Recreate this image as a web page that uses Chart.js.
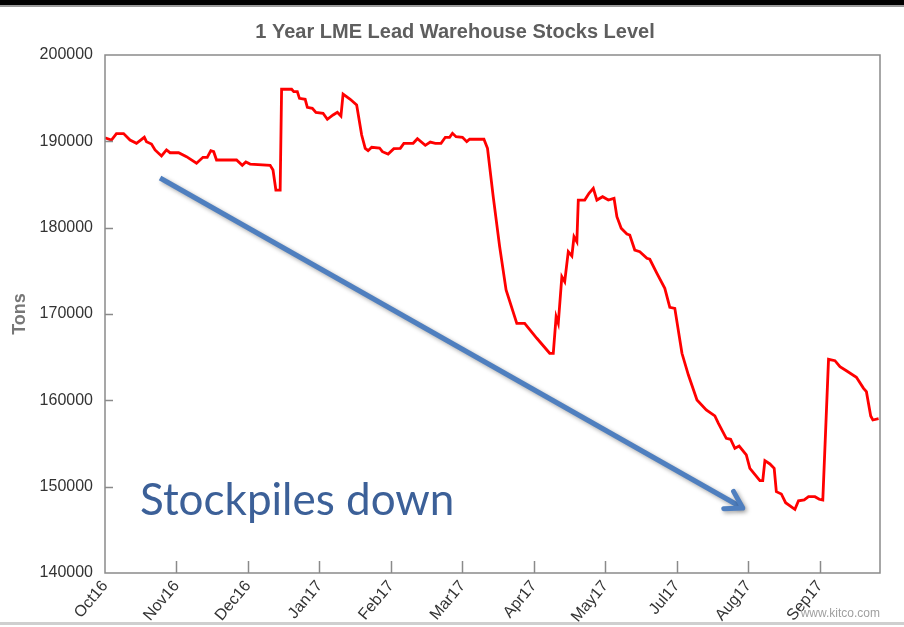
<!DOCTYPE html>
<html>
<head>
<meta charset="utf-8">
<script src="https://cdn.jsdelivr.net/npm/chart.js@4.4.1/dist/chart.umd.min.js"></script>
<style>
  html, body { margin: 0; padding: 0; background: #fff; }
  #wrap { position: relative; width: 904px; height: 627px; }
</style>
</head>
<body>
<div id="wrap"><canvas id="stocks"></canvas></div>
<script>
// month tick labels (the source chart skips Jun17)
const monthLabels = ["Oct16", "Nov16", "Dec16", "Jan17", "Feb17", "Mar17",
                     "Apr17", "May17", "Jul17", "Aug17", "Sep17"];
const yMin = 140000, yMax = 200000, yStep = 10000;

// position along the month axis (0 = Oct16) and stock level in tons
const monthPos = [0.00, 0.09, 0.16, 0.26, 0.35, 0.44, 0.55, 0.58, 0.65, 0.70,
  0.79, 0.86, 0.91, 1.03, 1.14, 1.28, 1.37, 1.43, 1.48, 1.52,
  1.56, 1.84, 1.92, 1.97, 2.03, 2.31, 2.35, 2.39, 2.45, 2.47,
  2.61, 2.64, 2.69, 2.72, 2.80, 2.83, 2.90, 2.95, 3.05, 3.11,
  3.19, 3.25, 3.30, 3.33, 3.43, 3.52, 3.59, 3.64, 3.68, 3.73,
  3.84, 3.88, 3.96, 4.04, 4.13, 4.18, 4.31, 4.37, 4.48, 4.55,
  4.62, 4.70, 4.76, 4.82, 4.86, 4.91, 5.00, 5.06, 5.10, 5.30,
  5.35, 5.43, 5.52, 5.61, 5.76, 5.87, 6.04, 6.22, 6.27, 6.31,
  6.34, 6.39, 6.43, 6.48, 6.53, 6.56, 6.60, 6.62, 6.71, 6.77,
  6.83, 6.88, 6.96, 7.04, 7.12, 7.16, 7.22, 7.30, 7.34, 7.41,
  7.48, 7.58, 7.62, 7.72, 7.83, 7.90, 7.97, 8.07, 8.16, 8.28,
  8.41, 8.53, 8.58, 8.69, 8.75, 8.81, 8.87, 8.97, 9.02, 9.16,
  9.20, 9.23, 9.30, 9.36, 9.39, 9.46, 9.52, 9.65, 9.70, 9.78,
  9.84, 9.93, 9.99, 10.04, 10.12, 10.21, 10.28, 10.37, 10.51, 10.61,
  10.65, 10.71, 10.74, 10.82];
const tons = [190400, 190150, 190900, 190900, 190150, 189770, 190470, 189960, 189690, 189000,
  188300, 189000, 188680, 188680, 188220, 187460, 188150, 188150, 188920, 188800,
  187840, 187840, 187220, 187610, 187370, 187220, 186680, 184360, 184360, 196030,
  196030, 195750, 195750, 194980, 194870, 193940, 193830, 193360, 193250, 192550,
  193050, 193360, 192930, 195480, 194870, 194210, 190730, 189190, 188920, 189310,
  189230, 188800, 188530, 189150, 189190, 189770, 189770, 190300, 189540, 189920,
  189770, 189770, 190470, 190470, 190930, 190540, 190470, 189960, 190240, 190240,
  189190, 183590, 177800, 172780, 168920, 168920, 167190, 165450, 165450, 169690,
  168920, 174320, 173740, 177220, 176720, 178950, 178370, 183200, 183200, 183980,
  184560, 183200, 183590, 183200, 183400, 181270, 179930, 179270, 179150, 177410,
  177220, 176450, 176340, 174710, 172980, 170780, 170660, 165450, 162930, 160040,
  158880, 158190, 157340, 155600, 155490, 154440, 154710, 153670, 152130, 150690,
  150690, 153010, 152630, 152130, 149420, 149150, 148140, 147380, 148370, 148460,
  148840, 148840, 148540, 148460, 164750, 164590, 163900, 163430, 162670, 161390,
  161000, 158190, 157720, 157870];

// trend arrow annotation, in axis units
const arrowFrom = [0.77, 185750];
const arrowTo = [8.92, 147530];
const noteText = "Stockpiles down";
const notePos = [0.49, 146720];

const points = monthPos.map((x, i) => ({ x: x, y: tons[i] }));

const decorations = {
  id: "decorations",
  beforeDraw(chart) {
    const ctx = chart.ctx;
    ctx.save();
    ctx.fillStyle = "#000";
    ctx.fillRect(0, 0, chart.width, 5);
    ctx.fillStyle = "#9a9a9a";
    ctx.fillRect(0, 5, chart.width, 2);
    ctx.fillStyle = "#cfcfcf";
    ctx.fillRect(0, 622, chart.width, 3);
    ctx.restore();
  },
  afterDatasetsDraw(chart) {
    const ctx = chart.ctx;
    const a = chart.chartArea;
    const xs = chart.scales.x, ys = chart.scales.y;
    ctx.save();
    // frame + inner tick marks
    ctx.strokeStyle = "#8a8a8a";
    ctx.lineWidth = 1.5;
    ctx.strokeRect(a.left, a.top, a.right - a.left, a.bottom - a.top);
    ctx.beginPath();
    ys.ticks.forEach(t => {
      if (t.value <= yMin || t.value >= yMax) return;
      const y = Math.round(ys.getPixelForValue(t.value)) + 0.5;
      ctx.moveTo(a.left, y);
      ctx.lineTo(a.left + 8, y);
    });
    xs.ticks.forEach(t => {
      if (!Number.isInteger(t.value) || t.value === 0) return;
      const x = Math.round(xs.getPixelForValue(t.value)) + 0.5;
      ctx.moveTo(x, a.bottom);
      ctx.lineTo(x, a.bottom - 12);
    });
    ctx.stroke();

    // arrow
    const x1 = xs.getPixelForValue(arrowFrom[0]), y1 = ys.getPixelForValue(arrowFrom[1]);
    const x2 = xs.getPixelForValue(arrowTo[0]), y2 = ys.getPixelForValue(arrowTo[1]);
    const ang = Math.atan2(y2 - y1, x2 - x1);
    ctx.shadowColor = "rgba(0,0,0,0.35)";
    ctx.shadowBlur = 4;
    ctx.shadowOffsetX = 2;
    ctx.shadowOffsetY = 2;
    ctx.strokeStyle = "#4f7fbf";
    ctx.lineWidth = 5;
    ctx.lineCap = "butt";
    ctx.beginPath();
    ctx.moveTo(x1, y1);
    ctx.lineTo(x2 - 3 * Math.cos(ang), y2 - 3 * Math.sin(ang));
    ctx.stroke();
    ctx.lineCap = "round";
    ctx.lineJoin = "round";
    ctx.beginPath();
    const hl = 19, spread = 0.55;
    ctx.moveTo(x2 - hl * Math.cos(ang - spread), y2 - hl * Math.sin(ang - spread));
    ctx.lineTo(x2, y2);
    ctx.lineTo(x2 - hl * Math.cos(ang + spread), y2 - hl * Math.sin(ang + spread));
    ctx.stroke();
    ctx.restore();

    // note text
    ctx.save();
    ctx.fillStyle = "#3c6098";
    ctx.font = "44px Lato, 'Open Sans', sans-serif";
    ctx.textAlign = "left";
    ctx.textBaseline = "alphabetic";
    ctx.fillText(noteText, xs.getPixelForValue(notePos[0]), ys.getPixelForValue(notePos[1]));
    ctx.restore();
  },
  afterDraw(chart) {
    const ctx = chart.ctx;
    ctx.save();
    ctx.fillStyle = "#5e5e5e";
    ctx.font = "bold 20px 'Liberation Sans', Arial, sans-serif";
    ctx.textAlign = "center";
    ctx.textBaseline = "middle";
    ctx.fillText("1 Year LME Lead Warehouse Stocks Level", 455, 32);
    ctx.fillStyle = "#a0a0a0";
    ctx.font = "12px 'Liberation Sans', Arial, sans-serif";
    ctx.textAlign = "right";
    ctx.textBaseline = "alphabetic";
    ctx.fillText("www.kitco.com", 880, 617);
    ctx.restore();
  }
};

new Chart(document.getElementById("stocks"), {
  type: "line",
  data: {
    datasets: [{
      data: points,
      borderColor: "#ff0000",
      borderWidth: 2.8,
      pointRadius: 0,
      tension: 0,
      fill: false
    }]
  },
  options: {
    responsive: true,
    maintainAspectRatio: false,
    animation: false,
    layout: { padding: { top: 55, right: 24, bottom: 0, left: 0 } },
    plugins: {
      legend: { display: false },
      tooltip: { enabled: false },
      title: { display: false }
    },
    scales: {
      x: {
        type: "linear",
        min: 0,
        max: 10.84,
        grid: { display: false, drawTicks: false },
        border: { display: false },
        ticks: {
          stepSize: 1,
          autoSkip: false,
          minRotation: 50,
          maxRotation: 50,
          padding: 4,
          color: "#333",
          font: { family: "'Liberation Sans', Arial, sans-serif", size: 16 },
          callback: v => (Number.isInteger(v) && monthLabels[v]) ? monthLabels[v] : ""
        },
        afterFit: s => { s.height = 54; }
      },
      y: {
        min: yMin,
        max: yMax,
        grid: { display: false, drawTicks: false },
        border: { display: false },
        title: {
          display: true,
          text: "Tons",
          color: "#777",
          font: { family: "'Liberation Sans', Arial, sans-serif", size: 18, weight: "bold" },
          padding: { top: 9, bottom: 0 }
        },
        ticks: {
          stepSize: yStep,
          padding: 12,
          color: "#333",
          font: { family: "'Liberation Sans', Arial, sans-serif", size: 16 },
          callback: v => String(v)
        },
        afterFit: s => { s.width = 105; }
      }
    }
  },
  plugins: [decorations]
});
</script>
</body>
</html>
